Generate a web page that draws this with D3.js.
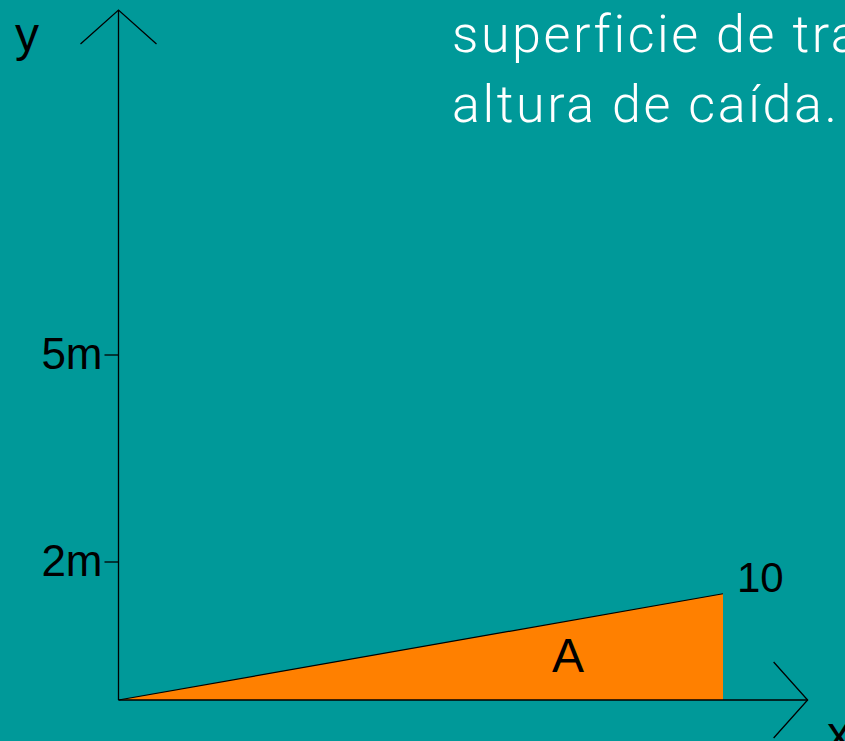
<!DOCTYPE html>
<html>
<head>
<meta charset="utf-8">
<script src="https://cdn.jsdelivr.net/npm/d3@7"></script>
<style>
  html, body { margin: 0; padding: 0; background: #009999; overflow: hidden; }
  svg { display: block; }
  .lbl { font-family: "Liberation Sans", Arial, sans-serif; fill: #000; }
  .title { font-family: Roboto, "Liberation Sans", sans-serif; font-weight: 300; fill: #fff; letter-spacing: 2.6px; }
</style>
</head>
<body>
<script>
// data
var titleLines = ["superficie de tra", "altura de caída."];
var yTicks = [2, 5];
var yTickLabels = ["2m", "5m"];
var xMark = 10;          // end of the slope
var xMarkLabel = "10";
var slopeHeight = 1.54;  // height at x = 10 (m)
var areaLabel = "A";
var xMax = 11.4, yMax = 10;

var W = 845, H = 741;
var svg = d3.select("body").append("svg").attr("width", W).attr("height", H);

svg.append("rect").attr("width", W).attr("height", H).attr("fill", "#009999");

var x = d3.scaleLinear().domain([0, 10]).range([118.5, 723]);
var y = d3.scaleLinear().domain([0, 5]).range([700, 355]);

// triangle A
var tri = [[0, 0], [xMark, slopeHeight], [xMark, 0]];
svg.append("path")
  .attr("d", d3.line().x(function(d) { return x(d[0]); }).y(function(d) { return y(d[1]); })(tri) + "Z")
  .attr("fill", "#ff8000")
  .attr("stroke", "none");
svg.append("line")
  .attr("x1", x(0)).attr("y1", y(0))
  .attr("x2", x(xMark)).attr("y2", y(slopeHeight))
  .attr("stroke", "#000").attr("stroke-width", 1.2);

// axes
var ax = svg.append("g").attr("stroke", "#000").attr("stroke-width", 1.3).attr("fill", "none");
ax.append("line").attr("x1", x(0)).attr("y1", y(0)).attr("x2", x(0)).attr("y2", y(yMax));
ax.append("line").attr("x1", x(0)).attr("y1", y(0)).attr("x2", x(xMax)).attr("y2", y(0));
// arrow heads
ax.append("path").attr("d", "M" + (x(0) - 38) + "," + (y(yMax) + 34) + "L" + x(0) + "," + y(yMax) + "L" + (x(0) + 38) + "," + (y(yMax) + 34));
ax.append("path").attr("d", "M" + (x(xMax) - 34) + "," + (y(0) - 38) + "L" + x(xMax) + "," + y(0) + "L" + (x(xMax) - 34) + "," + (y(0) + 38));

// y ticks
yTicks.forEach(function(t, i) {
  ax.append("line").attr("x1", x(0) - 14).attr("x2", x(0)).attr("y1", y(t)).attr("y2", y(t));
  svg.append("text").attr("class", "lbl")
    .attr("x", x(0) - 16).attr("y", y(t) + 14)
    .attr("text-anchor", "end")
    .style("font-size", "44px")
    .text(yTickLabels[i]);
});

// labels
svg.append("text").attr("class", "lbl").attr("x", 15).attr("y", 51).style("font-size", "48px").text("y");
svg.append("text").attr("class", "lbl").attr("x", 827).attr("y", 750).style("font-size", "48px").text("x");
svg.append("text").attr("class", "lbl").attr("x", x(xMark) + 14).attr("y", 592).style("font-size", "42px").text(xMarkLabel);
svg.append("text").attr("class", "lbl").attr("x", 568).attr("y", 672).attr("text-anchor", "middle").style("font-size", "48px").text(areaLabel);

// title
titleLines.forEach(function(s, i) {
  svg.append("text").attr("class", "title")
    .attr("x", 452).attr("y", 52 + i * 70)
    .style("font-size", "52px")
    .text(s);
});
</script>
</body>
</html>
